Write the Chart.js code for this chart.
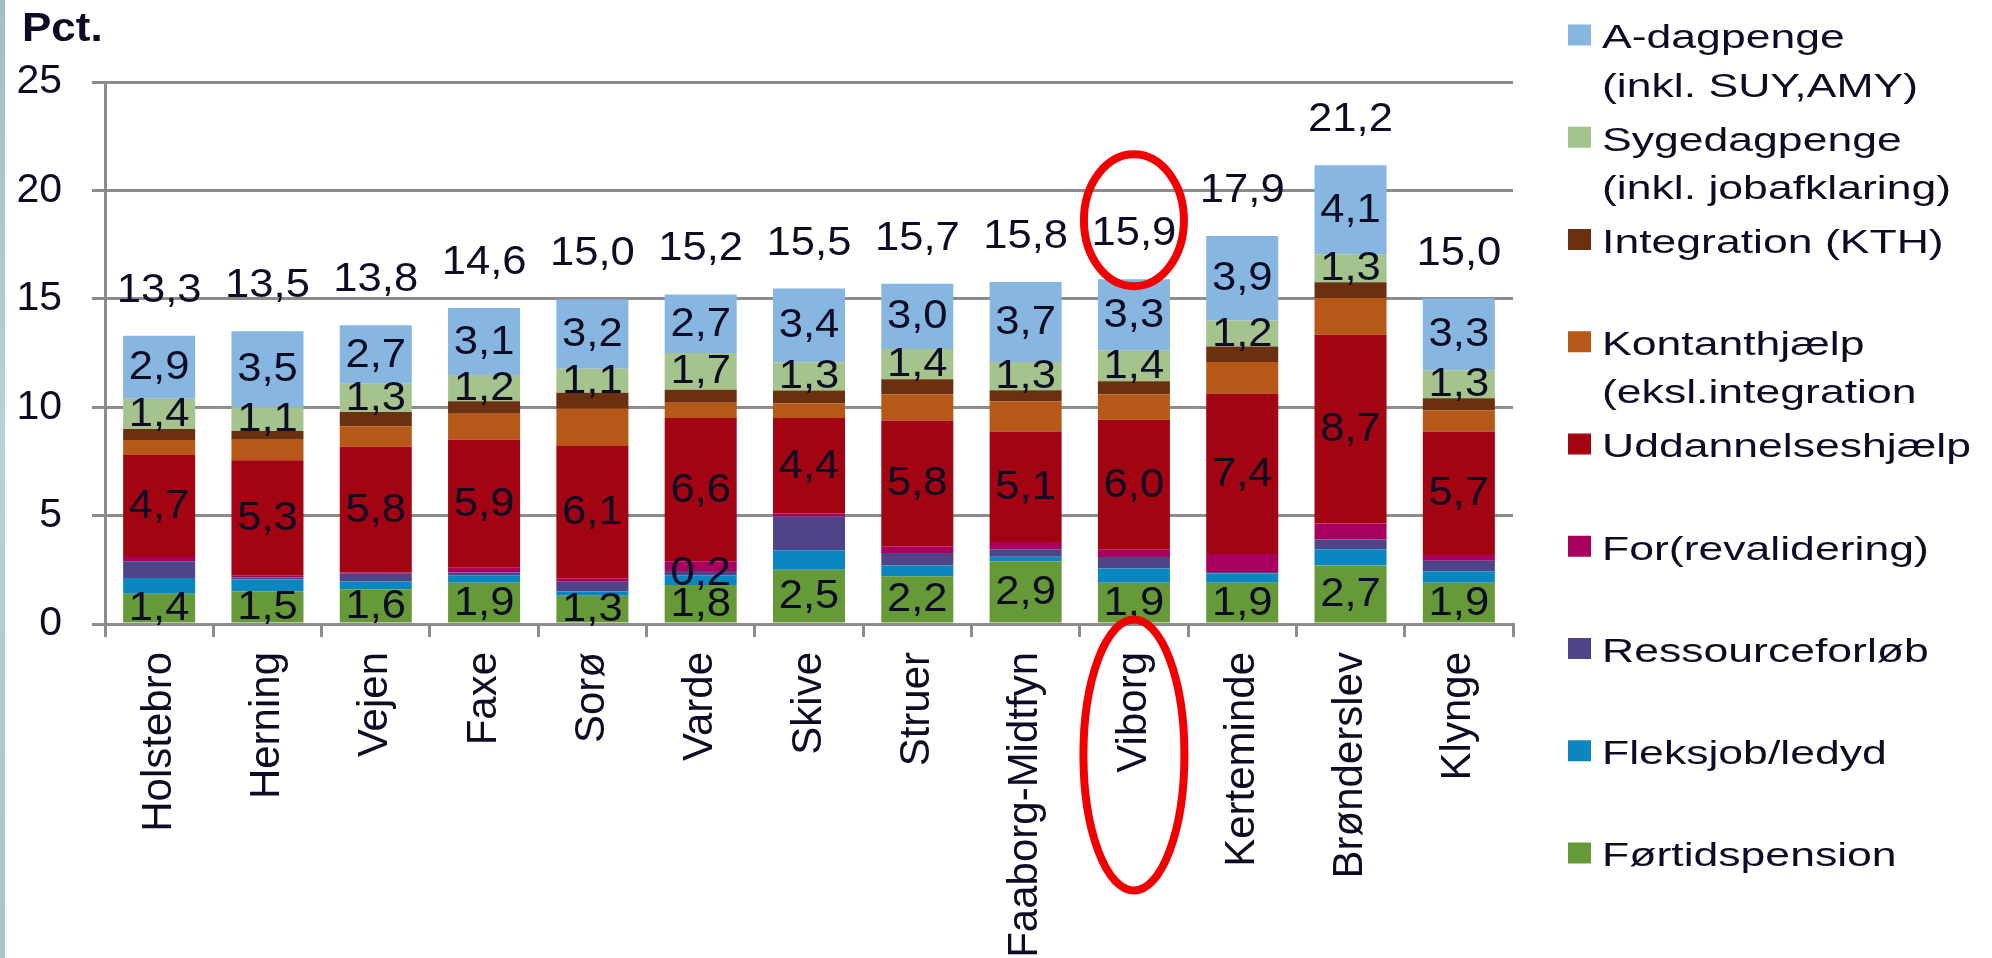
<!DOCTYPE html>
<html>
<head>
<meta charset="utf-8">
<script src="https://cdn.jsdelivr.net/npm/chart.js@4.4.0/dist/chart.umd.min.js"></script>
<style>
  html, body { margin: 0; padding: 0; background: #fff; }
  #wrap { position: relative; width: 1992px; height: 958px; overflow: hidden; }
  #edge { position: absolute; left: 0; top: 0; width: 5px; height: 958px;
          background: linear-gradient(#a2bfbf, #b9d1d4 45%, #a8c5c8); }
  canvas { display: block; }
</style>
</head>
<body>
<div id="wrap"><canvas id="chart" width="1992" height="958"></canvas><div id="edge"></div></div>
<script>
  const categories = ['Holstebro', 'Herning', 'Vejen', 'Faxe', 'Sorø', 'Varde', 'Skive', 'Struer',
    'Faaborg-Midtfyn', 'Viborg', 'Kerteminde', 'Brønderslev', 'Klynge'];

  // segment values, bottom of the stack first
  const fortidspension   = [1.4, 1.5, 1.6, 1.9, 1.3, 1.8, 2.5, 2.2, 2.9, 1.9, 1.9, 2.7, 1.9];
  const fleksjob         = [0.72, 0.55, 0.36, 0.35, 0.2, 0.45, 0.9, 0.5, 0.2, 0.66, 0.43, 0.75, 0.53];
  const ressourceforlob  = [0.77, 0.1, 0.36, 0.12, 0.45, 0.2, 1.56, 0.57, 0.35, 0.53, 0.07, 0.45, 0.49];
  const forrevalidering  = [0.2, 0.1, 0.05, 0.23, 0.16, 0.45, 0.14, 0.32, 0.33, 0.33, 0.83, 0.74, 0.26];
  const uddannelse       = [4.7, 5.3, 5.8, 5.9, 6.1, 6.6, 4.4, 5.8, 5.1, 6.0, 7.4, 8.7, 5.7];
  const kontanthjaelp    = [0.7, 0.95, 0.95, 1.2, 1.72, 0.7, 0.67, 1.2, 1.38, 1.18, 1.45, 1.7, 0.98];
  const integration      = [0.5, 0.4, 0.66, 0.58, 0.74, 0.6, 0.6, 0.7, 0.52, 0.6, 0.72, 0.72, 0.55];
  const sygedagpenge     = [1.4, 1.1, 1.3, 1.2, 1.1, 1.7, 1.3, 1.4, 1.3, 1.4, 1.2, 1.3, 1.3];
  const adagpenge        = [2.9, 3.5, 2.7, 3.1, 3.2, 2.7, 3.4, 3.0, 3.7, 3.3, 3.9, 4.1, 3.3];

  const yTicks = [0, 5, 10, 15, 20, 25];

  const seriesNames = [
    ['Førtidspension'],
    ['Fleksjob/ledyd'],
    ['Ressourceforløb'],
    ['For(revalidering)'],
    ['Uddannelseshjælp'],
    ['Kontanthjælp', '(eksl.integration'],
    ['Integration (KTH)'],
    ['Sygedagpenge', '(inkl. jobafklaring)'],
    ['A-dagpenge', '(inkl. SUY,AMY)']
  ];
  const seriesValues = [fortidspension, fleksjob, ressourceforlob, forrevalidering, uddannelse,
    kontanthjaelp, integration, sygedagpenge, adagpenge];
  const seriesColors = ['#669a38', '#0a87c1', '#4f4488', '#a9005f', '#a30412',
    '#b65918', '#6b3010', '#a5c48d', '#87b6e1'];

  // which segments carry a value label
  const labelledSeries = ['Førtidspension', 'Uddannelseshjælp', 'Sygedagpenge', 'A-dagpenge'];
  const extraLabels = [['Ressourceforløb', 'Varde']];
  const marked = 'Viborg';

  const gray = '#8c8c8c';
  const ink = '#0c0c24';
  const family = '"Liberation Sans", Arial, sans-serif';

  const fmt = v => (Math.round(v * 10) / 10).toFixed(1).replace('.', ',');

  function wideText(ctx, text, x, y, sx) {
    ctx.save();
    ctx.translate(x, y);
    ctx.scale(sx, 1);
    ctx.fillText(text, 0, 0);
    ctx.restore();
  }

  const valueLabels = {
    id: 'valueLabels',
    afterDatasetsDraw(chart) {
      const ctx = chart.ctx;
      ctx.save();
      ctx.fillStyle = ink;
      ctx.font = '40px ' + family;
      ctx.textAlign = 'center';
      ctx.textBaseline = 'middle';
      chart.data.datasets.forEach((ds, di) => {
        const meta = chart.getDatasetMeta(di);
        meta.data.forEach((bar, i) => {
          const show = labelledSeries.includes(ds.label) ||
            extraLabels.some(e => e[0] === ds.label && e[1] === categories[i]);
          if (!show) return;
          wideText(ctx, fmt(ds.data[i]), bar.x, (bar.y + bar.base) / 2 + 1, 1.09);
        });
      });
      // totals above the bars
      const topMeta = chart.getDatasetMeta(chart.data.datasets.length - 1);
      topMeta.data.forEach((bar, i) => {
        const total = seriesValues.reduce((s, arr) => s + arr[i], 0);
        wideText(ctx, fmt(total), bar.x, bar.y - 45, 1.09);
      });
      ctx.restore();
    }
  };

  const sideLegend = {
    id: 'sideLegend',
    afterDraw(chart) {
      const ctx = chart.ctx;
      ctx.save();
      ctx.font = '33px ' + family;
      ctx.textAlign = 'left';
      ctx.textBaseline = 'alphabetic';
      const items = chart.data.datasets.slice().reverse();
      items.forEach((ds, k) => {
        const cy = 35 + k * 102.25;
        ctx.fillStyle = ds.backgroundColor;
        ctx.fillRect(1568, cy - 10.5, 23, 21);
        ctx.fillStyle = ink;
        ds.legendLines.forEach((line, j) => {
          wideText(ctx, line, 1602, cy + 13.3 + j * 48.3, 1.35);
        });
      });
      // axis title
      ctx.font = 'bold 40px ' + family;
      wideText(ctx, 'Pct.', 22, 41, 1.1);
      ctx.restore();
    }
  };

  const redRings = {
    id: 'redRings',
    afterDraw(chart) {
      const i = categories.indexOf(marked);
      const x = chart.scales.x.getPixelForValue(i);
      const total = seriesValues.reduce((s, arr) => s + arr[i], 0);
      const ctx = chart.ctx;
      ctx.save();
      ctx.strokeStyle = '#f20000';
      ctx.lineWidth = 8;
      ctx.beginPath();
      ctx.ellipse(x, chart.scales.y.getPixelForValue(total) - 59, 50, 66, 0, 0, Math.PI * 2);
      ctx.stroke();
      ctx.beginPath();
      ctx.ellipse(x, chart.chartArea.bottom + 131, 50.5, 135.5, 0, 0, Math.PI * 2);
      ctx.stroke();
      ctx.restore();
    }
  };

  new Chart(document.getElementById('chart'), {
    type: 'bar',
    data: {
      labels: categories,
      datasets: seriesValues.map((vals, k) => ({
        label: seriesNames[k][0],
        legendLines: seriesNames[k],
        data: vals,
        backgroundColor: seriesColors[k],
        borderWidth: 0,
        barPercentage: 0.665,
        categoryPercentage: 1
      }))
    },
    options: {
      responsive: false,
      animation: false,
      layout: { padding: { left: 0, top: 82, right: 1992 - 1513, bottom: 0 } },
      plugins: { legend: { display: false }, tooltip: { enabled: false } },
      scales: {
        x: {
          stacked: true,
          grid: { display: true, drawOnChartArea: false, drawTicks: true, tickLength: 13, color: gray, lineWidth: 3 },
          border: { display: true, color: gray, width: 3 },
          ticks: { autoSkip: false, minRotation: 90, maxRotation: 90, padding: 15, color: ink,
            font: { family: family, size: 42 } },
          afterFit(scale) { scale.height = 958 - 624; }
        },
        y: {
          stacked: true,
          min: yTicks[0],
          max: yTicks[yTicks.length - 1],
          afterBuildTicks(scale) { scale.ticks = yTicks.map(v => ({ value: v })); },
          grid: { color: gray, lineWidth: 3, tickLength: 13 },
          border: { display: true, color: gray, width: 3 },
          ticks: { padding: 30, color: ink, font: { family: family, size: 41 } },
          afterFit(scale) { scale.width = 105; }
        }
      }
    },
    plugins: [valueLabels, sideLegend, redRings]
  });
</script>
</body>
</html>
